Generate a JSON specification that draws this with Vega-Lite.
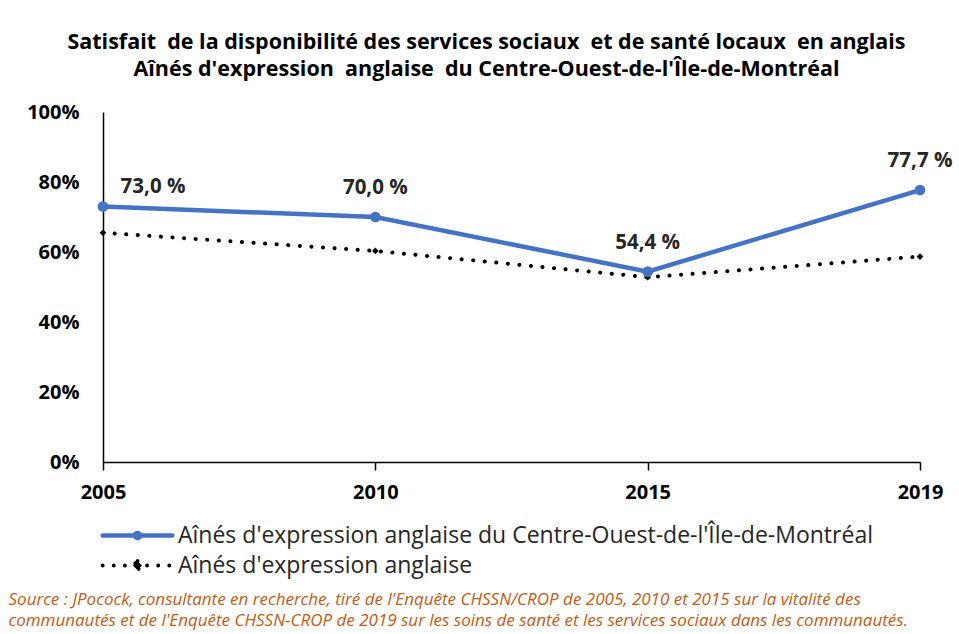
{
  "$schema": "https://vega.github.io/schema/vega-lite/v6.json",
  "width": 817,
  "height": 350,
  "autosize": {"type": "none"},
  "padding": {"left": 103, "top": 112, "right": 39, "bottom": 172},
  "background": "white",
  "title": {
    "text": ["Satisfait\u00a0 de la disponibilité des services sociaux\u00a0 et de santé locaux\u00a0 en anglais", "Aînés d'expression\u00a0 anglaise\u00a0 du Centre-Ouest-de-l'Île-de-Montréal"],
    "anchor": "middle",
    "dx": -25,
    "font": "Open Sans",
    "fontSize": 21.5,
    "fontWeight": "bold",
    "lineHeight": 27,
    "offset": 22,
    "color": "#000000"
  },
  "data": {
    "values": [
      {"year": "2005", "series": "Aînés d'expression anglaise", "value": 65.5},
      {"year": "2010", "series": "Aînés d'expression anglaise", "value": 60.3},
      {"year": "2015", "series": "Aînés d'expression anglaise", "value": 52.8},
      {"year": "2019", "series": "Aînés d'expression anglaise", "value": 58.7},
      {"year": "2005", "series": "Aînés d'expression anglaise du Centre-Ouest-de-l'Île-de-Montréal", "value": 73.0},
      {"year": "2010", "series": "Aînés d'expression anglaise du Centre-Ouest-de-l'Île-de-Montréal", "value": 70.0},
      {"year": "2015", "series": "Aînés d'expression anglaise du Centre-Ouest-de-l'Île-de-Montréal", "value": 54.4},
      {"year": "2019", "series": "Aînés d'expression anglaise du Centre-Ouest-de-l'Île-de-Montréal", "value": 77.7}
    ]
  },
  "encoding": {
    "x": {
      "field": "year",
      "type": "ordinal",
      "scale": {"type": "point", "padding": 0},
      "axis": {
        "title": ["Source : JPocock, consultante en recherche, tiré de l'Enquête CHSSN/CROP de 2005, 2010 et 2015 sur la vitalité des", "communautés et de l'Enquête CHSSN-CROP de 2019 sur les soins de santé et les services sociaux dans les communautés."],
        "titleFont": "Open Sans",
        "titleFontStyle": "italic",
        "titleFontWeight": "normal",
        "titleFontSize": 17,
        "titleColor": "#C55A11",
        "titleAnchor": "start",
        "titleAlign": "left",
        "titleBaseline": "top",
        "titleX": -95,
        "titleY": 129,
        "titleLineHeight": 21,
        "labelAngle": 0,
        "labelFont": "Open Sans",
        "labelFontSize": 20,
        "labelFontWeight": "bold",
        "labelColor": "#000000",
        "labelPadding": 12,
        "tickSize": 8,
        "tickColor": "#000000",
        "tickWidth": 1.5,
        "domainColor": "#000000",
        "domainWidth": 1.5,
        "grid": false
      }
    },
    "y": {
      "field": "value",
      "type": "quantitative",
      "scale": {"domain": [0, 100], "nice": false},
      "axis": {
        "title": null,
        "values": [0, 20, 40, 60, 80, 100],
        "labelExpr": "datum.value + '%'",
        "ticks": false,
        "labelPadding": 24,
        "labelFont": "Open Sans",
        "labelFontSize": 20,
        "labelFontWeight": "bold",
        "labelColor": "#000000",
        "domainColor": "#000000",
        "domainWidth": 1.5,
        "grid": false
      }
    }
  },
  "layer": [
    {
      "transform": [{"filter": "datum.series === \"Aînés d'expression anglaise\""}],
      "mark": {"type": "line", "strokeWidth": 4, "strokeDash": [0.1, 11.5], "strokeCap": "round"},
      "encoding": {
        "color": {
          "field": "series",
          "type": "nominal",
          "scale": {
            "domain": ["Aînés d'expression anglaise du Centre-Ouest-de-l'Île-de-Montréal", "Aînés d'expression anglaise"],
            "range": ["#4472C4", "#000000"]
          },
          "legend": {
            "orient": "none",
            "legendX": 23,
            "legendY": 412,
            "title": null,
            "direction": "vertical",
            "labelFont": "Open Sans",
            "labelFontSize": 23,
            "labelColor": "#262626",
            "labelLimit": 900,
            "labelOffset": 29,
            "symbolSize": 506,
            "symbolStrokeWidth": 4,
            "rowPadding": 5,
            "encode": {
              "symbols": {
                "update": {
                  "shape": {"signal": "datum.index === 0 ? 'M-3.1,0H3.1M-0.22,0A0.22,0.22,0,1,0,0.22,0A0.22,0.22,0,1,0,-0.22,0' : 'M-3.1,0H3.1M0,-0.4L0.4,0L0,0.4L-0.4,0Z'"},
                  "fill": {"signal": "datum.index === 0 ? '#4472C4' : '#000000'"},
                  "strokeDash": {"signal": "datum.index === 0 ? [1, 0] : [0.1, 11]"},
                  "strokeWidth": {"signal": "datum.index === 0 ? 4.5 : 3.8"},
                  "strokeCap": {"value": "round"},
                  "opacity": {"value": 1}
                }
              }
            }
          }
        }
      }
    },
    {
      "transform": [{"filter": "datum.series !== \"Aînés d'expression anglaise\""}],
      "mark": {"type": "line", "strokeWidth": 4.5, "strokeCap": "round"},
      "encoding": {
        "color": {"field": "series", "type": "nominal"}
      }
    },
    {
      "transform": [{"filter": "datum.series === \"Aînés d'expression anglaise\""}],
      "mark": {"type": "point", "shape": "diamond", "filled": true, "size": 45, "color": "#000000", "opacity": 1}
    },
    {
      "transform": [{"filter": "datum.series !== \"Aînés d'expression anglaise\""}],
      "mark": {"type": "point", "shape": "circle", "filled": true, "size": 115, "color": "#4472C4", "opacity": 1}
    },
    {
      "transform": [
        {"filter": "datum.series !== \"Aînés d'expression anglaise\" && datum.year === '2005'"},
        {"calculate": "replace(format(datum.value, '.1f'), '.', ',') + ' %'", "as": "label"}
      ],
      "mark": {"type": "text", "dx": 50, "dy": -20, "align": "center", "baseline": "middle", "font": "Open Sans", "fontSize": 20.5, "fontWeight": "bold", "color": "#262626"},
      "encoding": {"text": {"field": "label"}}
    },
    {
      "transform": [
        {"filter": "datum.series !== \"Aînés d'expression anglaise\" && datum.year !== '2005'"},
        {"calculate": "replace(format(datum.value, '.1f'), '.', ',') + ' %'", "as": "label"}
      ],
      "mark": {"type": "text", "dx": 0, "dy": -29, "align": "center", "baseline": "middle", "font": "Open Sans", "fontSize": 20.5, "fontWeight": "bold", "color": "#262626"},
      "encoding": {"text": {"field": "label"}}
    }
  ],
  "config": {
    "view": {"stroke": null},
    "legend": {"padding": 0}
  }
}
